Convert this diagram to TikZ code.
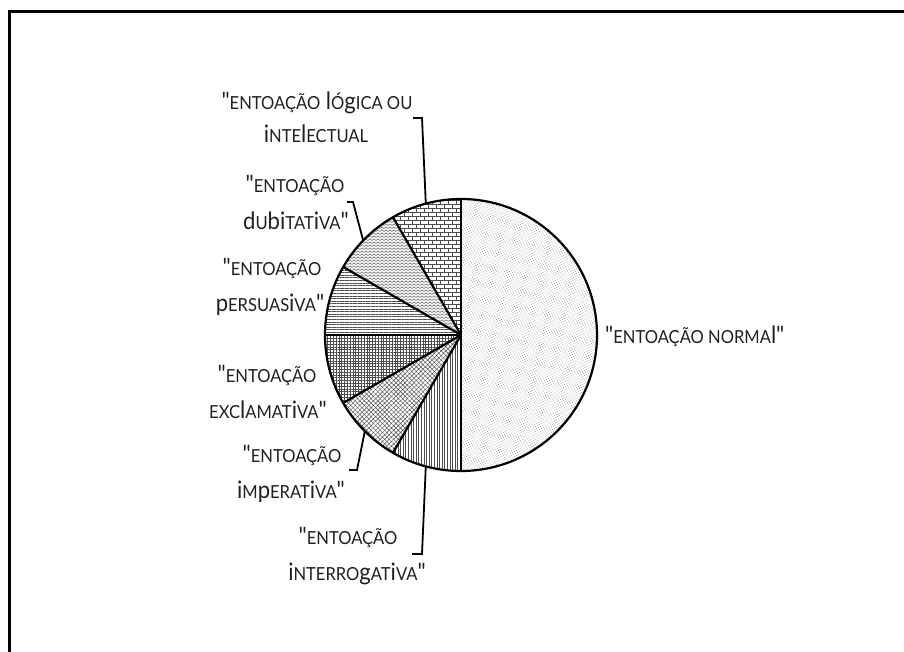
\documentclass[tikz,border=0pt]{standalone}
\usepackage{fontspec}
\newfontfamily\labfont{Lato}[FakeStretch=0.92]
\usetikzlibrary{patterns,patterns.meta,calc}

% small running-bond bricks
\pgfdeclarepatternformonly{finebricks}{\pgfpoint{-0.5pt}{-0.5pt}}{\pgfpoint{8.5pt}{8.5pt}}{\pgfpoint{8pt}{8pt}}{%
  \pgfsetlinewidth{0.5pt}%
  \pgfpathmoveto{\pgfpoint{0pt}{0pt}}\pgfpathlineto{\pgfpoint{8pt}{0pt}}%
  \pgfpathmoveto{\pgfpoint{0pt}{4pt}}\pgfpathlineto{\pgfpoint{8pt}{4pt}}%
  \pgfpathmoveto{\pgfpoint{0pt}{0pt}}\pgfpathlineto{\pgfpoint{0pt}{4pt}}%
  \pgfpathmoveto{\pgfpoint{4pt}{4pt}}\pgfpathlineto{\pgfpoint{4pt}{8pt}}%
  \pgfusepath{stroke}}

% fine zigzag rows
\pgfdeclarepatternformonly{finezigzag}{\pgfpoint{-0.5pt}{-0.5pt}}{\pgfpoint{4.5pt}{3.5pt}}{\pgfpoint{4pt}{3pt}}{%
  \pgfsetlinewidth{0.45pt}%
  \pgfpathmoveto{\pgfpoint{0pt}{0.5pt}}\pgfpathlineto{\pgfpoint{2pt}{2.2pt}}\pgfpathlineto{\pgfpoint{4pt}{0.5pt}}%
  \pgfusepath{stroke}}

\newcommand\smc[1]{{\fontsize{18}{20}\selectfont #1}}

\tikzset{
  slice/.style={pattern color=black!70},
  rim/.style={line width=2.2pt, line join=round},
  leader/.style={line width=1.8pt},
  lab/.style={anchor=base, inner sep=0pt, text=black!88, font=\labfont\fontsize{24}{28}\selectfont},
}

\begin{document}
\begin{tikzpicture}[x=1pt,y=-1pt]
\useasboundingbox (0,0) rectangle (904,652);
\clip (0,0) rectangle (904,652);

% outer frame
\draw[line width=3pt] (9.5,12) rectangle (920,670);

\coordinate (c) at (461,335);
\def\R{136}

% slices
\fill[slice,pattern={Dots[distance=2.2pt,radius=0.4pt,angle=30]},pattern color=black!55]
  (c) -- ++(-90:\R) arc[start angle=-90,end angle=90,radius=\R] -- cycle;
\fill[slice,pattern=finebricks]
  (c) -- ++(-90:\R) arc[start angle=-90,end angle=-120,radius=\R] -- cycle;
\fill[slice,pattern=finezigzag]
  (c) -- ++(-120:\R) arc[start angle=-120,end angle=-150,radius=\R] -- cycle;
\fill[slice,pattern={Lines[angle=0,distance=2.6pt,line width=0.5pt]}]
  (c) -- ++(-150:\R) arc[start angle=-150,end angle=-180,radius=\R] -- cycle;
\fill[slice,pattern={Hatch[angle=0,distance=2.8pt,line width=0.45pt]}]
  (c) -- ++(-180:\R) arc[start angle=-180,end angle=-210,radius=\R] -- cycle;
\fill[slice,pattern={Hatch[angle=45,distance=3.2pt,line width=0.45pt]}]
  (c) -- ++(-210:\R) arc[start angle=-210,end angle=-240,radius=\R] -- cycle;
\fill[slice,pattern={Lines[angle=90,distance=2.6pt,line width=0.5pt]}]
  (c) -- ++(-240:\R) arc[start angle=-240,end angle=-270,radius=\R] -- cycle;

% slice borders and rim
\foreach \a in {-90,-120,-150,-180,-210,-240,-270}
  \draw[rim] (c) -- ++(\a:\R);
\draw[rim] (c) circle[radius=\R];

% leader lines
\path (c) ++(-105:\R) coordinate (e1);
\path (c) ++(-136:\R) coordinate (e2);
\path (c) ++(-225:\R) coordinate (e5);
\path (c) ++(-255:\R) coordinate (e6);
\coordinate (k1) at (422,118); \coordinate (t1) at (413,118);
\coordinate (k2) at (353,202); \coordinate (t2) at (347,202);
\coordinate (k5) at (357,470); \coordinate (t5) at (349,470);
\coordinate (k6) at (422,554); \coordinate (t6) at (412,554);
\draw[leader] (e1) -- (k1) -- (t1);
\draw[leader] (e2) -- (k2) -- (t2);
\draw[leader] (e5) -- (k5) -- (t5);
\draw[leader] (e6) -- (k6) -- (t6);

% labels
\node[lab] (l1a) at (317,110) {"\smc{ENTOAÇÃO} l\smc{Ó}g\smc{ICA OU}};
\node[lab] (l1b) at (316,143) {i\smc{NTE}l\smc{ECTUAL}};
\node[lab] (l2a) at (295,193) {"\smc{ENTOAÇÃO}};
\node[lab] (l2b) at (296,230) {d\smc{U}bi\smc{TAT}i\smc{VA}"};
\node[lab] (l3a) at (272,276) {"\smc{ENTOAÇÃO}};
\node[lab] (l3b) at (270,311) {p\smc{ERSUAS}i\smc{VA}"};
\node[lab] (l4a) at (267,382) {"\smc{ENTOAÇÃO}};
\node[lab] (l4b) at (268,418) {\smc{EXC}l\smc{AMAT}i\smc{VA}"};
\node[lab] (l5a) at (292,462) {"\smc{ENTOAÇÃO}};
\node[lab] (l5b) at (291,498) {i\smc{M}p\smc{ERAT}i\smc{VA}"};
\node[lab] (l6a) at (348,544) {"\smc{ENTOAÇÃO}};
\node[lab] (l6b) at (357,580) {i\smc{NTERRO}g\smc{AT}i\smc{VA}"};
\node[lab,anchor=base west] (l7) at (605,343) {"\smc{ENTOAÇÃO NORMA}l"};
\end{tikzpicture}
\end{document}
